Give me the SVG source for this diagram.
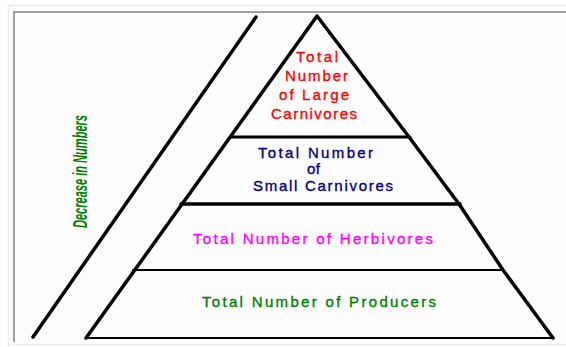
<svg xmlns="http://www.w3.org/2000/svg" width="566" height="347" viewBox="0 0 566 347">
<style>
.t{font-family:"Liberation Sans",Arial,sans-serif;font-size:15px;stroke-width:0.35px}
.ln{stroke:#000;fill:none;stroke-linejoin:round;stroke-linecap:round}
</style>
<rect x="0" y="0" width="566" height="347" fill="#ffffff"/>
<g id="frame">
<rect x="14" y="12" width="560" height="331" fill="#fdfdfd"/>
<path d="M8.5 347 V5.5 H566" stroke="#ececec" stroke-width="1.5" fill="none"/>
<path d="M8.5 344.5 H566" stroke="#efefef" stroke-width="1.5" fill="none"/>
<path d="M14 342 V12 H566" stroke="#a0a0a0" stroke-width="2" fill="none"/>
</g>
<g id="connectors">
<line class="ln" x1="256" y1="17" x2="33" y2="337" stroke-width="3.5"/>
<polyline class="ln" points="86,338 317,16 409,137 459,204 503,270 553,338" stroke-width="3.5"/>
</g>
<g id="level-large-carnivores">
<line class="ln" x1="230" y1="137" x2="410" y2="137" stroke-width="3"/>
<text class="t" fill="#ff0000" stroke="#ff0000" x="296" y="62" textLength="42" lengthAdjust="spacing">Total</text>
<text class="t" fill="#ff0000" stroke="#ff0000" x="285" y="80.5" textLength="63" lengthAdjust="spacing">Number</text>
<text class="t" fill="#ff0000" stroke="#ff0000" x="279" y="100" textLength="70" lengthAdjust="spacing">of Large</text>
<text class="t" fill="#ff0000" stroke="#ff0000" x="271" y="118.5" textLength="86" lengthAdjust="spacing">Carnivores</text>
</g>
<g id="level-small-carnivores">
<line class="ln" x1="181" y1="204" x2="460" y2="204" stroke-width="3.5"/>
<text class="t" fill="#000080" stroke="#000080" x="258" y="157.5" textLength="115" lengthAdjust="spacing">Total Number</text>
<text class="t" fill="#000080" stroke="#000080" x="307" y="174" textLength="13" lengthAdjust="spacing">of</text>
<text class="t" fill="#000080" stroke="#000080" x="253" y="191" textLength="140" lengthAdjust="spacing">Small Carnivores</text>
</g>
<g id="level-herbivores">
<line class="ln" x1="133" y1="270" x2="503" y2="270" stroke-width="2"/>
<text class="t" fill="#ff00ff" stroke="#ff00ff" x="193" y="244" textLength="240" lengthAdjust="spacing">Total Number of Herbivores</text>
</g>
<g id="level-producers">
<line class="ln" x1="86" y1="338" x2="553" y2="338" stroke-width="2"/>
<text class="t" fill="#008000" stroke="#008000" x="202" y="307" textLength="234" lengthAdjust="spacing">Total Number of Producers</text>
</g>
<g id="label-decrease">
<text transform="translate(87,228) rotate(-90)" x="0" y="0" fill="#008000" style="font-family:'Liberation Sans',Arial,sans-serif;font-size:20px;font-weight:bold;font-style:italic" textLength="113" lengthAdjust="spacingAndGlyphs">Decrease in Numbers</text>
</g>
</svg>
